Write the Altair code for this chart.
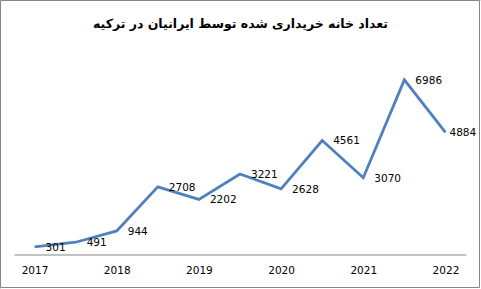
import altair as alt
import pandas as pd

periods = ["2017", "2017.5", "2018", "2018.5", "2019", "2019.5", "2020", "2020.5", "2021", "2021.5", "2022"]
counts = [301, 491, 944, 2708, 2202, 3221, 2628, 4561, 3070, 6986, 4884]
year_ticks = [2017, 2018, 2019, 2020, 2021, 2022]
title_text = "تعداد خانه خریداری شده توسط ایرانیان در ترکیه"

df = pd.DataFrame({"period": [float(p) for p in periods], "count": counts})
df["last"] = df["period"] == df["period"].max()

FONT = "DejaVu Sans"
W, H = 481, 289

x = alt.X(
    "period:Q",
    scale=alt.Scale(domain=[2016.75, 2022.25], nice=False, zero=False, range=[14, 466]),
    axis=alt.Axis(
        values=year_ticks, format="d", title=None, grid=False, ticks=False,
        domainColor="#868686", domainWidth=1, labelFont=FONT, labelFontSize=10.5,
        labelColor="#000000", labelPadding=11, labelFlush=False, offset=-34.5,
    ),
)
y = alt.Y(
    "count:Q",
    scale=alt.Scale(domain=[0, 8000], nice=False, range=[254.5, 54.5]),
    axis=None,
)

base = alt.Chart(df)

line = base.mark_line(color="#4F81BD", strokeWidth=2.8, strokeJoin="miter").encode(x=x, y=y)

labels_main = base.transform_filter("!datum.last").mark_text(
    align="left", baseline="middle", dx=11, dy=1, font=FONT, fontSize=10.5, color="#000000"
).encode(x=x, y=y, text="count:Q")

labels_last = base.transform_filter("datum.last").mark_text(
    align="left", baseline="middle", dx=4, dy=1, font=FONT, fontSize=10.5, color="#000000"
).encode(x=x, y=y, text="count:Q")

border = alt.Chart(pd.DataFrame({"a": [0]})).mark_rect(
    fill=None, stroke="#868686", strokeWidth=1
).encode(
    x=alt.value(0.5), x2=alt.value(479.5), y=alt.value(0.5), y2=alt.value(287.5)
)

chart = alt.layer(line, labels_main, labels_last, border).properties(
    width=W,
    height=H,
    autosize=alt.AutoSizeParams(type="none"),
    padding=0,
    title=alt.Title(title_text, font=FONT, fontSize=12.5, fontWeight="bold", color="#000000",
                    anchor="middle", offset=0, baseline="middle", dy=36),
).configure_view(stroke=None).configure(background="white")

chart.save("out.html", embed_options={"renderer": "svg", "actions": False})
